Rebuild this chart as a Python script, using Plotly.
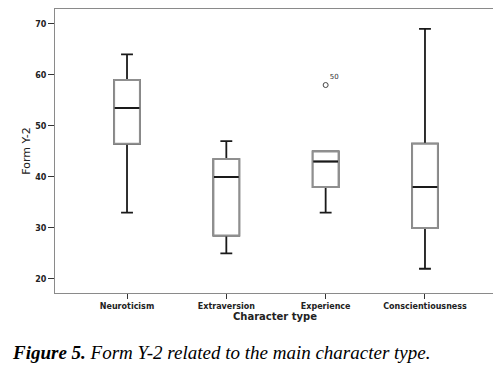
import plotly.graph_objects as go

categories = ["Neuroticism", "Extraversion", "Experience", "Conscientiousness"]
lower_whisker = [33, 25, 33, 22]
q1_values = [46.5, 28.5, 38, 30]
medians = [53.5, 40, 43, 38]
q3_values = [59, 43.5, 45, 46.5]
upper_whisker = [64, 47, 45, 69]
outlier_cat = ["Experience"]
outlier_val = [58]
outlier_label = ["50"]
y_ticks = [20, 30, 40, 50, 60, 70]

label_font = dict(family="DejaVu Sans", size=8, color="#222", weight="bold")
BW = 0.26

fig = go.Figure()
# whiskers (dark)
fig.add_trace(go.Box(
    x=categories, q1=q1_values, median=medians, q3=q3_values,
    lowerfence=lower_whisker, upperfence=upper_whisker,
    line=dict(color="#1a1a1a", width=1.8), fillcolor="white",
    width=BW, whiskerwidth=0.46, boxpoints=False, hoverinfo="skip",
    showlegend=False,
))
# gray box body on top
fig.add_trace(go.Box(
    x=categories, q1=q1_values, median=medians, q3=q3_values,
    lowerfence=q1_values, upperfence=q3_values,
    line=dict(color="#8f8f8f", width=2), fillcolor="white",
    width=BW, whiskerwidth=0, boxpoints=False, hoverinfo="skip",
    showlegend=False,
))
# dark median line
fig.add_trace(go.Box(
    x=categories, q1=medians, median=medians, q3=medians,
    lowerfence=medians, upperfence=medians,
    line=dict(color="#1a1a1a", width=2), fillcolor="rgba(0,0,0,0)",
    width=BW * 0.96, whiskerwidth=0, boxpoints=False, hoverinfo="skip",
    showlegend=False,
))
fig.add_trace(go.Scatter(
    x=outlier_cat, y=outlier_val, mode="markers+text",
    marker=dict(symbol="circle-open", size=5, color="#444", line=dict(width=1)),
    text=outlier_label, textposition="top right",
    textfont=dict(family="DejaVu Sans", size=7, color="#333"),
    showlegend=False, hoverinfo="skip",
))

fig.update_layout(
    width=493, height=357,
    margin=dict(l=47, r=6, t=1, b=72),
    paper_bgcolor="white", plot_bgcolor="white",
    boxmode="overlay",
    xaxis=dict(
        type="category", range=[-0.725, 3.705],
        showline=True, linecolor="#8a8a8a", linewidth=1, mirror=True,
        ticks="outside", ticklen=5, tickcolor="#333", tickwidth=1,
        tickfont=label_font, showgrid=False, zeroline=False,
        title=dict(text="Character type", standoff=2,
                   font=dict(family="DejaVu Sans", size=10, color="#222", weight="bold")),
    ),
    yaxis=dict(
        range=[17.25, 72.9], tickvals=y_ticks,
        showline=True, linecolor="#8a8a8a", linewidth=1, mirror=True,
        ticks="outside", ticklen=6, tickcolor="#333", tickwidth=1,
        tickfont=label_font, showgrid=False, zeroline=False,
        title=dict(text="Form Y-2", standoff=2,
                   font=dict(family="DejaVu Sans", size=11, color="#222")),
    ),
    annotations=[dict(
        text="<b>Figure 5.</b> Form Y-2 related to the main character type.",
        xref="paper", yref="paper", x=-45/440, y=-59/284,
        xanchor="left", yanchor="middle", showarrow=False,
        font=dict(family="Liberation Serif", size=19, color="black", style="italic"),
    )],
)

fig.write_html("out.html")
